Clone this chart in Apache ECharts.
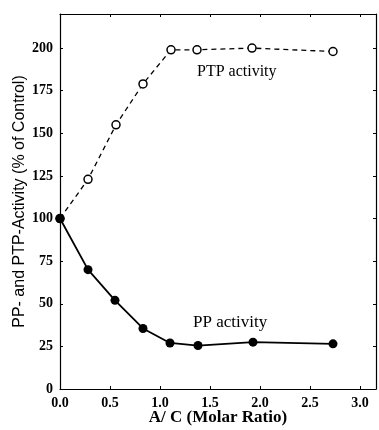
<!DOCTYPE html>
<html>
<head>
<meta charset="utf-8">
<script src="https://cdn.jsdelivr.net/npm/echarts@6/dist/echarts.min.js"></script>
<style>
  html, body { margin: 0; padding: 0; background: #fff; }
  #chart { width: 379px; height: 430px; }
</style>
</head>
<body>
<div id="chart"></div>
<script>
// data
const ptpX = [0.0, 0.28, 0.56, 0.83, 1.11, 1.37, 1.92, 2.73];
const ptpY = [100, 123, 155, 179, 199, 199, 200, 198];
const ppX = [0.0, 0.28, 0.55, 0.83, 1.10, 1.38, 1.93, 2.73];
const ppY = [100, 70, 52, 35.5, 27, 25.5, 27.5, 26.5];

const serif = "Liberation Serif";

function pairs(xs, ys) {
  return xs.map((x, i) => [x, ys[i]]);
}

const chart = echarts.init(document.getElementById("chart"));

const tickStyle = { show: true, inside: true, length: 3, lineStyle: { color: "#000", width: 1 } };
const lineStyle = { onZero: false, lineStyle: { color: "#000", width: 1.2 } };

const option = {
  animation: false,
  grid: { left: 60, top: 14, right: 3, bottom: 41, outerBoundsMode: "none" },
  xAxis: [
    {
      type: "value",
      min: 0,
      max: 3.16,
      interval: 0.5,
      axisLine: lineStyle,
      axisTick: tickStyle,
      splitLine: { show: false },
      axisLabel: {
        showMaxLabel: false,
        color: "#000",
        fontFamily: serif,
        fontWeight: "bold",
        fontSize: 14,
        margin: 7,
        formatter: (v) => v.toFixed(1),
      },
      name: "A/ C (Molar Ratio)",
      nameLocation: "middle",
      nameGap: 20,
      nameMoveOverlap: false,
      nameTextStyle: { color: "#000", fontFamily: serif, fontWeight: "bold", fontSize: 17 },
    },
    {
      type: "value",
      position: "top",
      min: 0,
      max: 3.16,
      interval: 0.5,
      axisLine: lineStyle,
      axisTick: tickStyle,
      axisLabel: { show: false },
      splitLine: { show: false },
    },
  ],
  yAxis: [
    {
      type: "value",
      min: 0,
      max: 220,
      interval: 25,
      axisLine: lineStyle,
      axisTick: tickStyle,
      splitLine: { show: false },
      axisLabel: {
        showMaxLabel: false,
        color: "#000",
        fontFamily: serif,
        fontWeight: "bold",
        fontSize: 14,
        margin: 7,
      },
      name: "PP- and PTP-Activity (% of Control)",
      nameLocation: "middle",
      nameGap: 32,
      nameMoveOverlap: false,
      nameTextStyle: { color: "#000", fontFamily: "Liberation Sans", fontSize: 16 },
    },
    {
      type: "value",
      position: "right",
      min: 0,
      max: 220,
      interval: 25,
      axisLine: lineStyle,
      axisTick: tickStyle,
      axisLabel: { show: false },
      splitLine: { show: false },
    },
  ],
  series: [
    {
      name: "PTP activity",
      type: "line",
      data: pairs(ptpX, ptpY),
      symbol: "circle",
      symbolSize: 8,
      itemStyle: { color: "#fff", borderColor: "#000", borderWidth: 1.5 },
      lineStyle: { color: "#000", width: 1.3, type: [5, 4] },
      markPoint: {
        symbol: "circle",
        symbolSize: 0,
        data: [{ coord: [1.37, 186] }],
        label: {
          show: true,
          position: "right",
          distance: 0,
          formatter: "PTP activity",
          color: "#000",
          fontFamily: serif,
          fontSize: 16,
        },
      },
    },
    {
      name: "PP activity",
      type: "line",
      data: pairs(ppX, ppY),
      symbol: "circle",
      symbolSize: 9,
      itemStyle: { color: "#000" },
      lineStyle: { color: "#000", width: 1.8 },
      markPoint: {
        symbol: "circle",
        symbolSize: 0,
        data: [{ coord: [1.33, 39] }],
        label: {
          show: true,
          position: "right",
          distance: 0,
          formatter: "PP activity",
          color: "#000",
          fontFamily: serif,
          fontSize: 17,
        },
      },
    },
  ],
};

chart.setOption(option);
</script>
</body>
</html>
